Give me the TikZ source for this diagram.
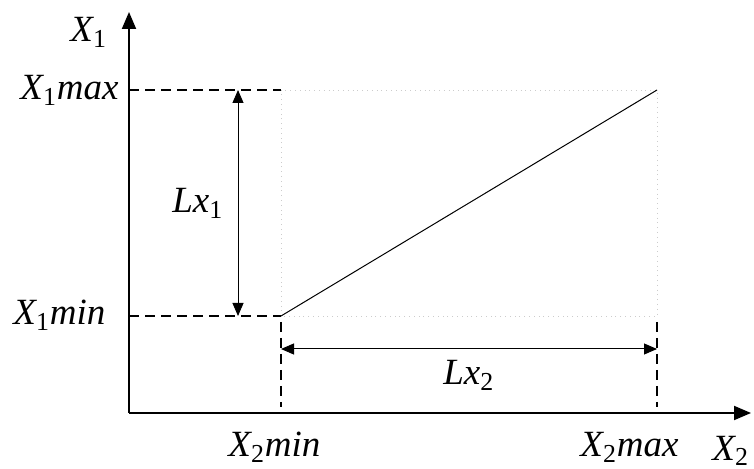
\documentclass[tikz,border=0pt]{standalone}
\usepackage{fontspec}
\setmainfont{Liberation Serif}
\usetikzlibrary{arrows.meta}
\tikzstyle{axis} = [line width=1pt, -{Triangle[length=8.5pt, width=7pt]}]
\tikzstyle{guide} = [line width=0.8pt, dash pattern=on 5pt off 3pt]
\tikzstyle{frame} = [line width=0.4pt, gray!40, dotted]
\tikzstyle{dim} = [line width=0.5pt, {Triangle[length=6.5pt, width=5.5pt]}-{Triangle[length=6.5pt, width=5.5pt]}]
\tikzstyle{lbl} = [anchor=base west, inner sep=0pt, font=\fontsize{18.5}{22}\selectfont\itshape]
\newcommand{\idx}[1]{\textsubscript{\upshape #1}}

\begin{document}
\begin{tikzpicture}[x=0.5pt, y=-0.5pt]
  \useasboundingbox (0,0) rectangle (754,469);
  \coordinate (o) at (129,413);
  \coordinate (ytop) at (129,12);
  \coordinate (xend) at (751,413);
  \coordinate (lo) at (281,316);
  \coordinate (hi) at (657,90);
  \coordinate (ymax) at (129,90);
  \coordinate (ymin) at (129,316);
  \coordinate (tlo) at (281,322);
  \coordinate (blo) at (281,407);
  \coordinate (thi) at (657,322);
  \coordinate (bhi) at (657,407);
  \coordinate (dtop) at (238,90);
  \coordinate (dbot) at (238,316);
  \coordinate (dl) at (281,349);
  \coordinate (dr) at (657,349);

  \draw[frame] (lo) rectangle (hi);
  \draw[guide] (ymax) -- (lo |- hi);
  \draw[guide] (ymin) -- (lo);
  \draw[guide] (tlo) -- (blo);
  \draw[guide] (thi) -- (bhi);
  \draw[line width=0.5pt] (lo) -- (hi);
  \draw[dim] (dtop) -- (dbot);
  \draw[dim] (dl) -- (dr);
  \draw[axis] (o) -- (ytop);
  \draw[axis] (o) -- (xend);

  \node[lbl] (x1) at (70,42) {X\idx{1}};
  \node[lbl] (x1max) at (20,100) {X\idx{1}max};
  \node[lbl] (x1min) at (13,325) {X\idx{1}min};
  \node[lbl] (lx1) at (172,213) {Lx\idx{1}};
  \node[lbl] (lx2) at (443,385) {Lx\idx{2}};
  \node[lbl] (x2min) at (228,457) {X\idx{2}min};
  \node[lbl] (x2max) at (580,457) {X\idx{2}max};
  \node[lbl] (x2) at (712,460) {X\idx{2}};
\end{tikzpicture}
\end{document}
